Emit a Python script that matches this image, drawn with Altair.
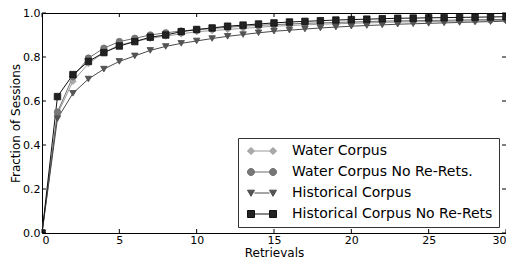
import altair as alt
import pandas as pd

retrievals = list(range(31))
series_names = ["Water Corpus", "Water Corpus No Re-Rets.", "Historical Corpus", "Historical Corpus No Re-Rets"]
water = [0, 0.54, 0.69, 0.77, 0.82, 0.855, 0.87, 0.885, 0.895, 0.905, 0.915, 0.92, 0.925, 0.93, 0.935, 0.94,
         0.943, 0.946, 0.949, 0.951, 0.953, 0.955, 0.957, 0.959, 0.96, 0.961, 0.962, 0.963, 0.964, 0.965, 0.966]
water_norr = [0, 0.55, 0.71, 0.795, 0.84, 0.87, 0.885, 0.9, 0.91, 0.918, 0.924, 0.93, 0.935, 0.94, 0.944, 0.947,
              0.95, 0.953, 0.955, 0.957, 0.959, 0.961, 0.963, 0.964, 0.965, 0.966, 0.967, 0.968, 0.969, 0.97, 0.971]
hist = [0, 0.52, 0.635, 0.70, 0.745, 0.78, 0.805, 0.83, 0.848, 0.862, 0.873, 0.884, 0.894, 0.902, 0.91, 0.917,
        0.922, 0.927, 0.932, 0.936, 0.94, 0.943, 0.946, 0.949, 0.951, 0.953, 0.955, 0.957, 0.959, 0.961, 0.963]
hist_norr = [0, 0.62, 0.72, 0.78, 0.82, 0.85, 0.87, 0.89, 0.90, 0.915, 0.925, 0.932, 0.94, 0.945, 0.95, 0.955,
             0.959, 0.962, 0.965, 0.968, 0.97, 0.972, 0.974, 0.976, 0.977, 0.978, 0.979, 0.98, 0.981, 0.982, 0.983]
x_ticks = [0, 5, 10, 15, 20, 25, 30]
y_ticks = [0.0, 0.2, 0.4, 0.6, 0.8, 1.0]

line_colors = ["#9a9a9a", "#6e6e6e", "#4a4a4a", "#111111"]
fill_colors = ["#aaaaaa", "#777777", "#555555", "#222222"]
shapes = ["diamond", "circle", "triangle-down", "square"]

D = 6.29
legend_paths = [
    "M0,-1L1,0L0,1L-1,0Z M1,0H5.29 M{d},-1L{d1},0L{d},1L{d0},0Z".format(d=D, d1=D + 1, d0=D - 1),
    "M1,0A1,1,0,1,1,-1,0A1,1,0,1,1,1,0Z M1,0H5.29 M{d1},0A1,1,0,1,1,{d0},0A1,1,0,1,1,{d1},0Z".format(d1=D + 1, d0=D - 1),
    "M-1,-0.8L1,-0.8L0,0.95Z M1,0H5.29 M{d0},-0.8L{d1},-0.8L{d},0.95Z".format(d=D, d1=D + 1, d0=D - 1),
    "M-1,-1H1V1H-1Z M1,0H5.29 M{d0},-1H{d1}V1H{d0}Z".format(d1=D + 1, d0=D - 1),
]

rows = []
for i, (name, vals) in enumerate(zip(series_names, [water, water_norr, hist, hist_norr])):
    for x, v in zip(retrievals, vals):
        rows.append({"x": x, "y": v, "series": name, "order": i,
                     "lc": line_colors[i], "fc": fill_colors[i], "shape": shapes[i]})
df = pd.DataFrame(rows)

W, H = 464, 220
xs = alt.Scale(domain=[0, 30], nice=False)
ys = alt.Scale(domain=[0, 1], nice=False)

xenc = alt.X("x:Q", scale=xs, title="Retrievals",
             axis=alt.Axis(values=x_ticks, format="d", labelPadding=1,
                           titleY=23.5, titleBaseline="alphabetic"))
yenc = alt.Y("y:Q", scale=ys, title="Fraction of Sessions",
             axis=alt.Axis(values=y_ticks, format=".1f", labelPadding=2,
                           titleX=-23, titleBaseline="alphabetic"))

lines = alt.Chart(df).mark_line(strokeWidth=1, clip=True).encode(
    x=xenc, y=yenc,
    color=alt.Color("lc:N", scale=None),
    detail="series:N",
    order="x:Q",
)

points = alt.Chart(df).mark_point(filled=True, size=42, strokeWidth=0.8, opacity=1, clip=True).encode(
    x="x:Q", y="y:Q",
    shape=alt.Shape("shape:N", scale=None),
    fill=alt.Fill("fc:N", scale=None),
    stroke=alt.Stroke("lc:N", scale=None),
)

legend = alt.Legend(orient="none", legendX=196, legendY=125, title=None,
                    labelFont="DejaVu Sans", labelFontSize=14, labelColor="black",
                    labelOffset=34, padding=6, rowPadding=7,
                    strokeColor="#333333", fillColor="white",
                    symbolStrokeWidth=1, symbolSize=49, labelLimit=400)

legend_layer = alt.Chart(df).transform_filter("datum.x < 0").mark_point(filled=True, size=49, opacity=1).encode(
    x="x:Q", y="y:Q",
    shape=alt.Shape("series:N", scale=alt.Scale(domain=series_names, range=legend_paths), legend=legend, sort=series_names),
    fill=alt.Fill("series:N", scale=alt.Scale(domain=series_names, range=fill_colors), legend=legend, sort=series_names),
    stroke=alt.Stroke("series:N", scale=alt.Scale(domain=series_names, range=line_colors), legend=legend, sort=series_names),
)

xt = pd.DataFrame({"x": x_ticks})
yt = pd.DataFrame({"y": y_ticks})
tb = alt.Chart(xt).mark_rule(color="black", strokeWidth=1).encode(x="x:Q", y=alt.value(H), y2=alt.value(H - 4))
tt = alt.Chart(xt).mark_rule(color="black", strokeWidth=1).encode(x="x:Q", y=alt.value(0), y2=alt.value(4))
tl = alt.Chart(yt).mark_rule(color="black", strokeWidth=1).encode(y="y:Q", x=alt.value(0), x2=alt.value(4))
tr = alt.Chart(yt).mark_rule(color="black", strokeWidth=1).encode(y="y:Q", x=alt.value(W), x2=alt.value(W - 4))

chart = alt.layer(lines, points, legend_layer, tb, tt, tl, tr).properties(
    width=W, height=H,
    autosize=alt.AutoSizeParams(type="none"),
    padding={"left": 34, "top": 5, "right": 0, "bottom": 26},
).configure_view(stroke="black", strokeWidth=1).configure_axis(
    ticks=False, domain=False, grid=False,
    labelFont="DejaVu Sans", labelFontSize=11, labelColor="black",
    titleFont="DejaVu Sans", titleFontSize=12, titleFontWeight="normal", titleColor="black",
)

chart.save("out.html", embed_options={"renderer": "svg", "actions": False})
